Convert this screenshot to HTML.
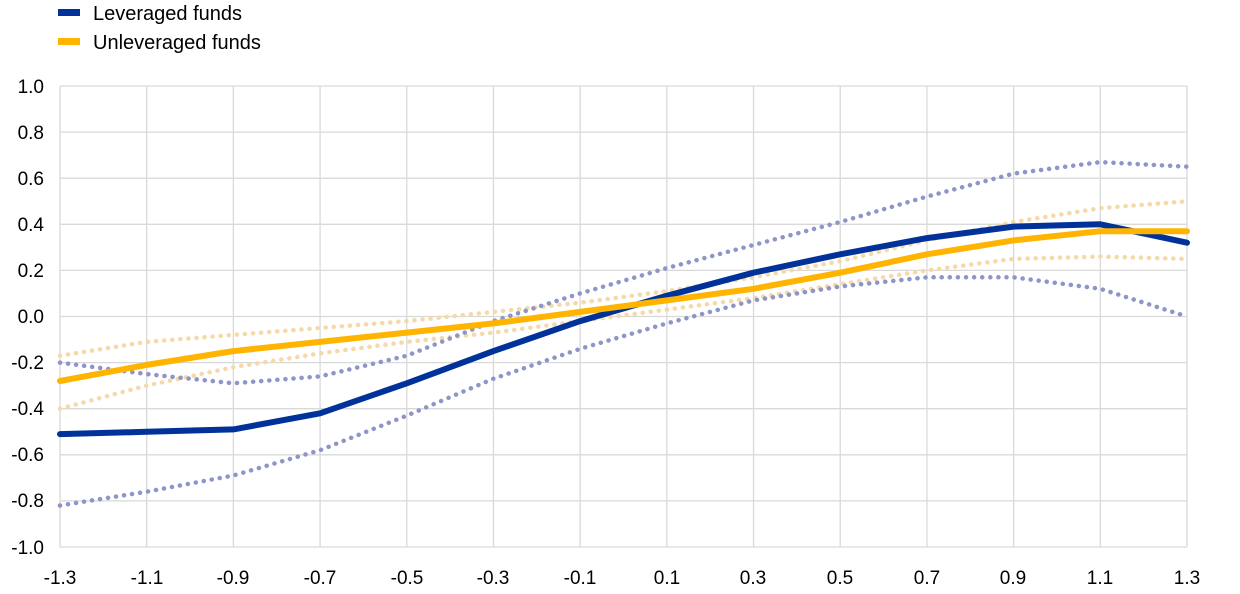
<!DOCTYPE html>
<html><head><meta charset="utf-8"><style>
html,body{margin:0;padding:0;background:#fff;}
svg{display:block;font-family:"Liberation Sans",Arial,sans-serif;}
</style></head><body>
<svg id="c" width="1240" height="594" viewBox="0 0 1240 594" xmlns="http://www.w3.org/2000/svg">
<g stroke="#d9d9d9" stroke-width="1.3" id="grid"></g>
<g font-size="19" fill="#000" text-anchor="end">
<text x="44" y="93">1.0</text>
<text x="44" y="139">0.8</text>
<text x="44" y="185">0.6</text>
<text x="44" y="231">0.4</text>
<text x="44" y="277">0.2</text>
<text x="44" y="323">0.0</text>
<text x="44" y="369">-0.2</text>
<text x="44" y="415">-0.4</text>
<text x="44" y="461">-0.6</text>
<text x="44" y="507">-0.8</text>
<text x="44" y="554">-1.0</text>
</g>
<g font-size="19" fill="#000" text-anchor="middle">
<text x="60" y="584">-1.3</text>
<text x="147" y="584">-1.1</text>
<text x="233" y="584">-0.9</text>
<text x="320" y="584">-0.7</text>
<text x="407" y="584">-0.5</text>
<text x="493" y="584">-0.3</text>
<text x="580" y="584">-0.1</text>
<text x="667" y="584">0.1</text>
<text x="753" y="584">0.3</text>
<text x="840" y="584">0.5</text>
<text x="927" y="584">0.7</text>
<text x="1013" y="584">0.9</text>
<text x="1100" y="584">1.1</text>
<text x="1187" y="584">1.3</text>
</g>
<g id="series"></g>
<rect x="58" y="9" width="22" height="7" fill="#003299"/>
<text x="93" y="20" font-size="20">Leveraged funds</text>
<rect x="58" y="38" width="22" height="7" fill="#ffb400"/>
<text x="93" y="49" font-size="20">Unleveraged funds</text>
</svg>
<script>
var X=function(i){return 60+i*(1127/13);},Y=function(v){return 316.5-v*230.5;};
var g=document.getElementById('grid'),s='';
for(var i=0;i<=13;i++){s+='<line x1="'+X(i)+'" y1="86" x2="'+X(i)+'" y2="547"/>';}
for(var j=0;j<=10;j++){var y=86+j*46.1;s+='<line x1="60" y1="'+y+'" x2="1187" y2="'+y+'"/>';}
g.innerHTML=s;
function pts(a){return a.map(function(v,i){return X(i).toFixed(1)+','+Y(v).toFixed(1);}).join(' ');}
var lev=[-0.51,-0.50,-0.49,-0.42,-0.29,-0.15,-0.02,0.09,0.19,0.27,0.34,0.39,0.40,0.32];
var unl=[-0.28,-0.21,-0.15,-0.11,-0.07,-0.03,0.02,0.07,0.12,0.19,0.27,0.33,0.37,0.37];
var lu=[-0.20,-0.25,-0.29,-0.26,-0.17,-0.02,0.10,0.21,0.31,0.41,0.52,0.62,0.67,0.65];
var ll=[-0.82,-0.76,-0.69,-0.58,-0.43,-0.27,-0.14,-0.03,0.07,0.13,0.17,0.17,0.12,0.00];
var uu=[-0.17,-0.11,-0.08,-0.05,-0.02,0.02,0.06,0.11,0.17,0.24,0.33,0.41,0.47,0.50];
var ul=[-0.40,-0.30,-0.22,-0.16,-0.11,-0.07,-0.02,0.03,0.08,0.14,0.20,0.25,0.26,0.25];
function pl(a,c,w,d){return '<polyline fill="none" stroke="'+c+'" stroke-width="'+w+'" stroke-linejoin="round" stroke-linecap="round"'+(d?' stroke-dasharray="0.1 8"':'')+' points="'+pts(a)+'"/>';}
document.getElementById('series').innerHTML=
pl(uu,'#f5d9a8',4.5,1)+pl(ul,'#f5d9a8',4.5,1)+pl(lu,'#8e95c8',4.5,1)+pl(ll,'#8e95c8',4.5,1)+
pl(lev,'#003299',6,0)+pl(unl,'#ffb400',6,0);
</script>
</body></html>
